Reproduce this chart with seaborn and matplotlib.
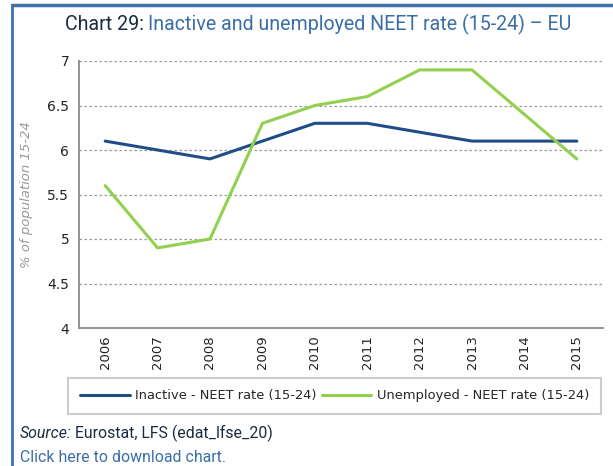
import matplotlib
matplotlib.use("Agg")
import matplotlib.pyplot as plt
from matplotlib.lines import Line2D
from matplotlib.ticker import MultipleLocator, FixedLocator, NullFormatter
import seaborn as sns
import pandas as pd

years = ["2006", "2007", "2008", "2009", "2010", "2011", "2012", "2013", "2014", "2015"]
inactive = [6.1, 6.0, 5.9, 6.1, 6.3, 6.3, 6.2, 6.1, 6.1, 6.1]
unemployed = [5.6, 4.9, 5.0, 6.3, 6.5, 6.6, 6.9, 6.9, 6.4, 5.9]
series_names = ["Inactive - NEET rate (15-24)", "Unemployed - NEET rate (15-24)"]
series_colors = ["#1F4E87", "#92D050"]

df = pd.DataFrame({
    "pos": list(range(len(years))) * 2,
    "value": inactive + unemployed,
    "series": [series_names[0]] * len(years) + [series_names[1]] * len(years),
})

sns.set_theme(style="white")
plt.rcParams["font.family"] = ["DejaVu Sans"]

W, H = 613, 466
fig = plt.figure(figsize=(W / 100, H / 100), dpi=100)
ax = fig.add_axes([79 / W, 1 - 328 / H, (603 - 79) / W, (328 - 61) / H])

sns.lineplot(data=df, x="pos", y="value", hue="series", palette=series_colors,
             linewidth=2.2, ax=ax, legend=False)

ax.set_xlim(-0.5, len(years) - 0.5)
ax.set_ylim(4, 7)
ax.yaxis.set_major_locator(MultipleLocator(0.5))
ax.set_yticklabels([f"{v:g}" for v in ax.get_yticks()])
ax.xaxis.set_major_locator(FixedLocator(range(len(years))))
ax.set_xticklabels(years, rotation=90, fontsize=9.5, color="#222222")
ax.xaxis.set_minor_locator(FixedLocator([i - 0.5 for i in range(len(years) + 1)]))
ax.xaxis.set_minor_formatter(NullFormatter())
ax.tick_params(axis="x", which="major", length=0, pad=5)
ax.tick_params(axis="x", which="minor", length=4, width=1, color="#8a8a8a", direction="out")
ax.tick_params(axis="y", which="major", length=4, width=1, color="#8a8a8a",
               direction="out", labelsize=10, labelcolor="#222222", pad=3)
ax.grid(axis="y", color="#9a9a9a", linestyle=(0, (2, 2)), linewidth=0.9)
ax.grid(axis="x", visible=False)
for s in ["top", "right"]:
    ax.spines[s].set_visible(False)
for s in ["left", "bottom"]:
    ax.spines[s].set_color("#8a8a8a")
    ax.spines[s].set_linewidth(1.3)
ax.set_xlabel("")
ax.set_ylabel("% of population 15-24", fontstyle="italic", color="#999999", fontsize=9.5,
              labelpad=10)

# legend in a framed box below the axis
handles = [Line2D([], [], color=c, linewidth=2.2) for c in series_colors]
leg = fig.legend(handles, series_names, loc="center", ncol=2,
                 bbox_to_anchor=(334.5 / W, 1 - 396 / H),
                 fontsize=9.4, frameon=True, fancybox=False, handlelength=3.8,
                 columnspacing=0.4, handletextpad=0.4, borderpad=0.9, borderaxespad=0)
leg.get_frame().set_edgecolor("#c0c0c0")
leg.get_frame().set_linewidth(1.5)

# title in two colours
fig.canvas.draw()
r = fig.canvas.get_renderer()
title_font = dict(family="Roboto", fontsize=14.1)
t1 = fig.text(65 / W, 1 - 30 / H, "Chart 29:", color="#1d2b3f", va="baseline", **title_font)
bb = t1.get_window_extent(renderer=r)
fig.text(bb.x1 / W + 4 / W, 1 - 30 / H, "Inactive and unemployed NEET rate (15-24) \u2013 EU",
         color="#3b6ea8", va="baseline", **title_font)

# source and link lines
foot_font = dict(family="Roboto", fontsize=11.4)
s1 = fig.text(20 / W, 1 - 438 / H, "Source:", fontstyle="italic", color="#1d2b3f",
              va="baseline", **foot_font)
bb2 = s1.get_window_extent(renderer=r)
fig.text(bb2.x1 / W + 3 / W, 1 - 438 / H, "Eurostat, LFS (edat_lfse_20)", color="#1d2b3f",
         va="baseline", **foot_font)
fig.text(20 / W, 1 - 462 / H, "Click here to download chart.", color="#3b6ea8",
         va="baseline", **foot_font)

# page frame lines
frame_color = "#3f72aa"
fig.add_artist(Line2D([12 / W, 12 / W], [0, 1 - 5 / H], color=frame_color, linewidth=2,
                      transform=fig.transFigure))
fig.add_artist(Line2D([12 / W, 1], [1 - 5 / H, 1 - 5 / H], color=frame_color, linewidth=2.5,
                      transform=fig.transFigure))

fig.savefig("out.png", dpi=100)
